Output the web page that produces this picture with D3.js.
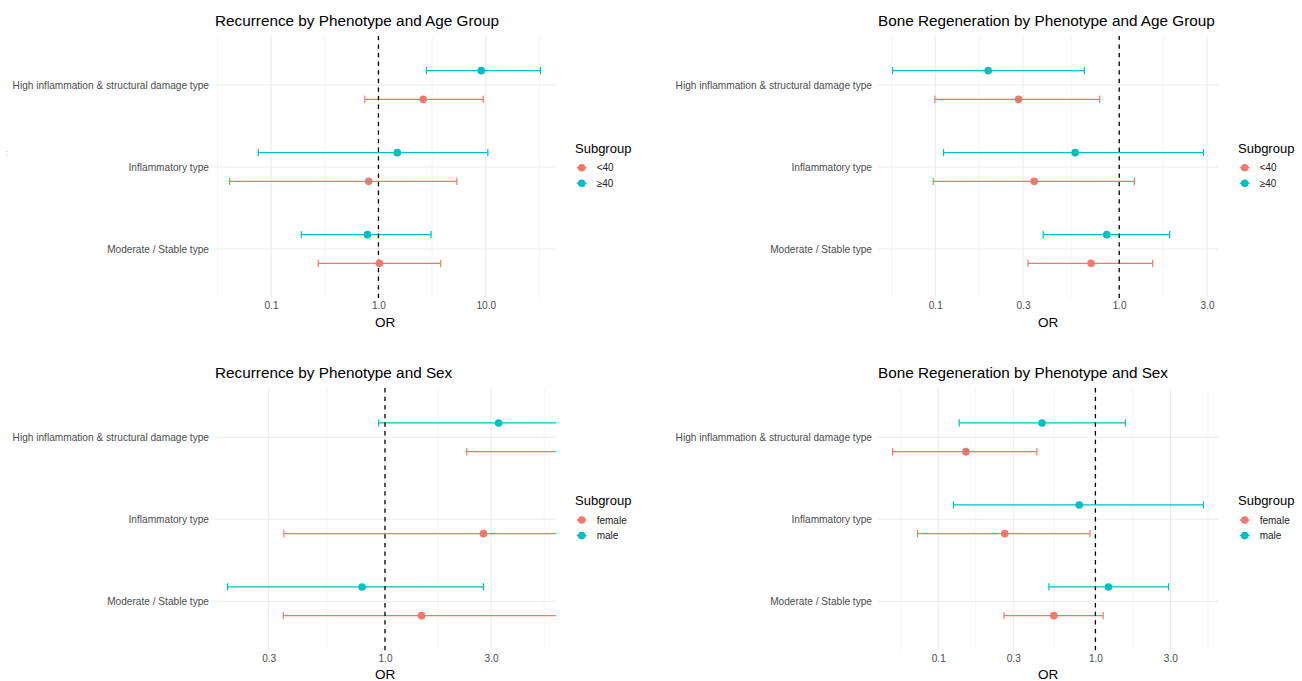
<!DOCTYPE html>
<html><head><meta charset="utf-8">
<script src="https://cdn.jsdelivr.net/npm/d3@7"></script>
<style>
body{margin:0;background:#fff}
svg{display:block;font-family:"Liberation Sans",Arial,Helvetica,sans-serif}
</style>
</head><body>
<svg id="chart" width="1302" height="681"></svg>
<script>
// ---------- data ----------
const phenotypes = ["High inflammation & structural damage type", "Inflammatory type", "Moderate / Stable type"];
const ageGroups = ["<40", "≥40"];
const sexGroups = ["female", "male"];

// Recurrence by phenotype and age group (order = phenotypes)
const recAgeLt40_or = [2.61, 0.81, 1.02];
const recAgeLt40_lo = [0.746, 0.041, 0.275];
const recAgeLt40_hi = [9.48, 5.37, 3.80];
const recAgeGe40_or = [9.06, 1.50, 0.79];
const recAgeGe40_lo = [2.80, 0.0758, 0.191];
const recAgeGe40_hi = [32.3, 10.45, 3.09];

// Bone regeneration by phenotype and age group
const boneAgeLt40_or = [0.284, 0.345, 0.703];
const boneAgeLt40_lo = [0.0995, 0.0975, 0.319];
const boneAgeLt40_hi = [0.783, 1.21, 1.52];
const boneAgeGe40_or = [0.194, 0.576, 0.856];
const boneAgeGe40_lo = [0.0586, 0.111, 0.386];
const boneAgeGe40_hi = [0.646, 2.87, 1.88];

// Recurrence by phenotype and sex (null = not estimable)
const recSexFemale_or = [8.5, 2.77, 1.46];
const recSexFemale_lo = [2.33, 0.351, 0.349];
const recSexFemale_hi = [31.0, 21.9, 6.12];
const recSexMale_or = [3.24, null, 0.789];
const recSexMale_lo = [0.937, null, 0.196];
const recSexMale_hi = [11.2, null, 2.77];

// Bone regeneration by phenotype and sex
const boneSexFemale_or = [0.150, 0.265, 0.544];
const boneSexFemale_lo = [0.0512, 0.0738, 0.262];
const boneSexFemale_hi = [0.424, 0.924, 1.12];
const boneSexMale_or = [0.458, 0.789, 1.21];
const boneSexMale_lo = [0.136, 0.125, 0.506];
const boneSexMale_hi = [1.55, 4.87, 2.92];

// axis breaks / labels
const breaksRecAge = [0.1, 1, 10];
const labelsRecAge = ["0.1", "1.0", "10.0"];
const breaksBoneAge = [0.1, 0.3, 1, 3];
const labelsBoneAge = ["0.1", "0.3", "1.0", "3.0"];
const breaksRecSex = [0.3, 1, 3];
const labelsRecSex = ["0.3", "1.0", "3.0"];
const breaksBoneSex = [0.1, 0.3, 1, 3];
const labelsBoneSex = ["0.1", "0.3", "1.0", "3.0"];
const recSexLimits = [0.2, 5]; // coord_cartesian limits

const titles = [
  "Recurrence by Phenotype and Age Group",
  "Bone Regeneration by Phenotype and Age Group",
  "Recurrence by Phenotype and Sex",
  "Bone Regeneration by Phenotype and Sex"
];

// ---------- build ----------
function rows(groups, sets) {
  const out = [];
  groups.forEach((g, gi) => {
    const [or, lo, hi] = sets[gi];
    phenotypes.forEach((p, i) => {
      if (or[i] != null) out.push({ phen: p, group: g, gi, or: or[i], lo: lo[i], hi: hi[i] });
    });
  });
  return out;
}

const panels = [
  { title: titles[0], groups: ageGroups, data: rows(ageGroups, [[recAgeLt40_or, recAgeLt40_lo, recAgeLt40_hi], [recAgeGe40_or, recAgeGe40_lo, recAgeGe40_hi]]), breaks: breaksRecAge, labels: labelsRecAge, limits: null, col: 0, row: 0 },
  { title: titles[1], groups: ageGroups, data: rows(ageGroups, [[boneAgeLt40_or, boneAgeLt40_lo, boneAgeLt40_hi], [boneAgeGe40_or, boneAgeGe40_lo, boneAgeGe40_hi]]), breaks: breaksBoneAge, labels: labelsBoneAge, limits: null, col: 1, row: 0 },
  { title: titles[2], groups: sexGroups, data: rows(sexGroups, [[recSexFemale_or, recSexFemale_lo, recSexFemale_hi], [recSexMale_or, recSexMale_lo, recSexMale_hi]]), breaks: breaksRecSex, labels: labelsRecSex, limits: recSexLimits, col: 0, row: 1 },
  { title: titles[3], groups: sexGroups, data: rows(sexGroups, [[boneSexFemale_or, boneSexFemale_lo, boneSexFemale_hi], [boneSexMale_or, boneSexMale_lo, boneSexMale_hi]]), breaks: breaksBoneSex, labels: labelsBoneSex, limits: null, col: 1, row: 1 }
];

const colors = ["#F8766D", "#00BFC4"];
const colX = [214, 877];
const rowY = [35.8, 388.1];
const plotW = 342;
const plotH = 262.4;

const svg = d3.select("#chart");
svg.append("rect").attr("width", 1302).attr("height", 681).attr("fill", "#fff");

// tiny stray mark on left edge of the original
svg.append("text").attr("x", 5.5).attr("y", 156).attr("font-size", 9).attr("fill", "#b0b0b0").text(":");

function minorBreaks(majorsLog, lo, hi) {
  let b = majorsLog.slice();
  if (lo < b[0]) b = [b[0] - (b[1] - b[0])].concat(b);
  if (hi > b[b.length - 1]) b.push(b[b.length - 1] + (b[b.length - 1] - b[b.length - 2]));
  const out = [];
  for (let i = 0; i < b.length - 1; i++) out.push((b[i] + b[i + 1]) / 2);
  return out.filter(v => v >= lo && v <= hi && !majorsLog.some(m => Math.abs(m - v) < 1e-9));
}

panels.forEach((P, pi) => {
  const left = colX[P.col], top = rowY[P.row];
  const g = svg.append("g");

  // x domain (log) with 5% expansion
  let lo, hi;
  if (P.limits) { lo = Math.log10(P.limits[0]); hi = Math.log10(P.limits[1]); }
  else {
    lo = Math.log10(d3.min(P.data, d => d.lo));
    hi = Math.log10(d3.max(P.data, d => d.hi));
  }
  const ex = (hi - lo) * 0.05;
  const x = d3.scaleLog().domain([Math.pow(10, lo - ex), Math.pow(10, hi + ex)]).range([left, left + plotW]);
  const y = d3.scalePoint().domain(phenotypes).range([top, top + plotH]).padding(0.6);
  const step = y.step();
  const dodge = gi => (gi === 0 ? 1 : -1) * 0.175 * step;

  // grid
  const mins = minorBreaks(P.breaks.map(Math.log10), lo - ex, hi + ex).map(v => Math.pow(10, v));
  g.selectAll(".minor").data(mins).join("line")
    .attr("x1", d => x(d)).attr("x2", d => x(d)).attr("y1", top).attr("y2", top + plotH)
    .attr("stroke", "#EBEBEB").attr("stroke-width", 0.55);
  g.selectAll(".major").data(P.breaks).join("line")
    .attr("x1", d => x(d)).attr("x2", d => x(d)).attr("y1", top).attr("y2", top + plotH)
    .attr("stroke", "#EBEBEB").attr("stroke-width", 1.07);
  g.selectAll(".hgrid").data(phenotypes).join("line")
    .attr("x1", left).attr("x2", left + plotW).attr("y1", d => y(d)).attr("y2", d => y(d))
    .attr("stroke", "#EBEBEB").attr("stroke-width", 1.07);

  // x axis (labels only, no ticks/lines)
  const xAxis = d3.axisBottom(x).tickValues(P.breaks).tickFormat((d, i) => P.labels[i]).tickSize(0).tickPadding(0);
  const ax = g.append("g").attr("transform", `translate(0,${top + plotH + 4})`).call(xAxis);
  ax.select(".domain").remove();
  ax.selectAll("text").attr("font-size", 10.1).attr("fill", "#4D4D4D")
    .attr("font-family", "Liberation Sans, Arial, sans-serif").attr("dy", "0.71em");

  // y axis labels
  const yAxis = d3.axisLeft(y).tickSize(0).tickPadding(5);
  const ay = g.append("g").attr("transform", `translate(${left},0)`).call(yAxis);
  ay.select(".domain").remove();
  ay.selectAll("text").attr("font-size", 10.15).attr("fill", "#4D4D4D")
    .attr("font-family", "Liberation Sans, Arial, sans-serif");

  // axis title
  g.append("text").attr("x", left + plotW / 2).attr("y", top + plotH + 28.5)
    .attr("text-anchor", "middle").attr("font-size", 13.5).attr("fill", "#000").text("OR");

  // title
  g.append("text").attr("x", left + 1).attr("y", top - 10)
    .attr("font-size", 15.3).attr("fill", "#000").text(P.title);

  // clip
  const cid = "clip" + pi;
  svg.append("clipPath").attr("id", cid).append("rect")
    .attr("x", left).attr("y", top).attr("width", plotW).attr("height", plotH);
  const m = g.append("g").attr("clip-path", `url(#${cid})`);

  const cap = 3.6;
  const eb = m.selectAll(".eb").data(P.data).join("g")
    .attr("stroke", d => colors[d.gi]).attr("stroke-width", 1.2).attr("fill", "none");
  eb.append("line")
    .attr("x1", d => x(d.lo)).attr("x2", d => x(d.hi))
    .attr("y1", d => y(d.phen) + dodge(d.gi)).attr("y2", d => y(d.phen) + dodge(d.gi));
  eb.append("line")
    .attr("x1", d => x(d.lo)).attr("x2", d => x(d.lo))
    .attr("y1", d => y(d.phen) + dodge(d.gi) - cap).attr("y2", d => y(d.phen) + dodge(d.gi) + cap);
  eb.append("line")
    .attr("x1", d => x(d.hi)).attr("x2", d => x(d.hi))
    .attr("y1", d => y(d.phen) + dodge(d.gi) - cap).attr("y2", d => y(d.phen) + dodge(d.gi) + cap);

  // reference line at OR = 1
  m.append("line").attr("x1", x(1)).attr("x2", x(1)).attr("y1", top).attr("y2", top + plotH)
    .attr("stroke", "#000").attr("stroke-width", 1.3).attr("stroke-dasharray", "4.3,4.3");

  m.selectAll(".pt").data(P.data).join("circle")
    .attr("cx", d => x(d.or)).attr("cy", d => y(d.phen) + dodge(d.gi)).attr("r", 3.8)
    .attr("fill", d => colors[d.gi]);

  // legend
  const cy = top + plotH / 2;
  const lg = g.append("g");
  lg.append("text").attr("x", left + 361).attr("y", cy - 18.7).attr("dy", "0.35em")
    .attr("font-size", 13).attr("fill", "#000").text("Subgroup");
  P.groups.forEach((gr, i) => {
    const ky = cy + 0.7 + i * 15.6;
    lg.append("line").attr("x1", left + 362.7).attr("x2", left + 372.7).attr("y1", ky).attr("y2", ky)
      .attr("stroke", colors[i]).attr("stroke-width", 1.2);
    lg.append("circle").attr("cx", left + 367.7).attr("cy", ky).attr("r", 3.8).attr("fill", colors[i]);
    lg.append("text").attr("x", left + 382.7).attr("y", ky).attr("dy", "0.35em")
      .attr("font-size", 10).attr("fill", "#222").text(gr);
  });
});
</script>
</body></html>
